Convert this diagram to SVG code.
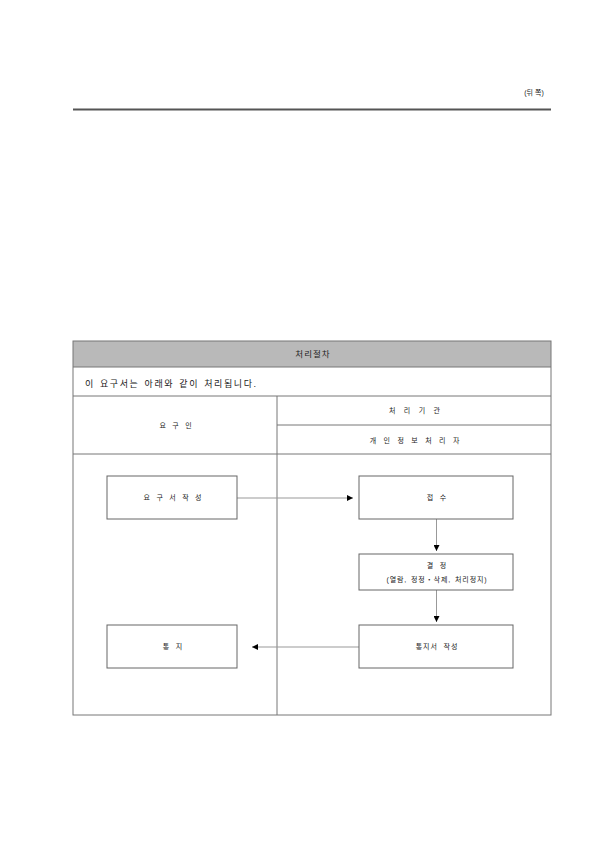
<svg xmlns="http://www.w3.org/2000/svg" width="595" height="841" viewBox="0 0 595 841">
<style>
text{font-family:"Liberation Sans","Noto Sans CJK KR",sans-serif;fill:#222;text-anchor:middle}
.s{font-size:7px;letter-spacing:1px;word-spacing:2.5px}
.m{font-size:8.5px;letter-spacing:1px}
.t{stroke:#777;stroke-width:1;fill:none}
.box{fill:#fff;stroke:#666;stroke-width:1}
.c{stroke:#999;stroke-width:1;fill:none}
</style>
<defs>
<marker id="ah" viewBox="0 0 10 10" refX="10" refY="5" markerWidth="6" markerHeight="6" markerUnits="userSpaceOnUse" orient="auto">
<path d="M0,0 L10,5 L0,10 Z" fill="#000"/>
</marker>
</defs>
<text style="font-size:7px;font-family:'Liberation Sans','Noto Sans CJK KR',sans-serif" x="534" y="95">(뒤 쪽)</text>
<line x1="73" y1="109.5" x2="551" y2="109.5" stroke="#555" stroke-width="2"/>
<g id="table">
<rect x="73" y="341" width="478" height="26" fill="#b9b9b9"/>
<rect x="73" y="341" width="478" height="374" class="t" stroke-width="1.3"/>
<line class="t" x1="73" y1="367" x2="551" y2="367"/>
<line class="t" x1="73" y1="396" x2="551" y2="396"/>
<line class="t" x1="277" y1="425" x2="551" y2="425"/>
<line class="t" x1="73" y1="454" x2="551" y2="454"/>
<line class="t" x1="277" y1="396" x2="277" y2="715"/>
<text class="m" x="313" y="357">처리절차</text>
<text style="font-size:9px;text-anchor:start;letter-spacing:1.6px;word-spacing:1px" x="85" y="387">이 요구서는 아래와 같이 처리됩니다.</text>
<text class="s" x="176" y="428">요 구 인</text>
<text class="s" x="415" y="413" style="word-spacing:4.5px">처 리 기 관</text>
<text class="s" x="415" y="443" style="word-spacing:3.5px">개 인 정 보 처 리 자</text>
</g>
<g id="connectors">
<line class="c" x1="237" y1="498" x2="353" y2="498" marker-end="url(#ah)"/>
<line class="c" x1="436.5" y1="519" x2="436.5" y2="551" marker-end="url(#ah)"/>
<line class="c" x1="436.5" y1="590" x2="436.5" y2="622" marker-end="url(#ah)"/>
<line class="c" x1="359" y1="647" x2="252" y2="647" marker-end="url(#ah)"/>
</g>
<g id="n1"><rect class="box" x="107" y="476" width="130" height="43"/><text class="s" x="173" y="500">요 구 서 작 성</text></g>
<g id="n2"><rect class="box" x="359" y="476" width="154" height="43"/><text class="s" x="437" y="500">접 수</text></g>
<g id="n3"><rect class="box" x="359" y="554" width="154" height="36"/><text class="s" x="437" y="568">결 정</text><text class="s" x="437" y="582" style="word-spacing:1px;letter-spacing:0.9px">(열람, 정정・삭제, 처리정지)</text></g>
<g id="n4"><rect class="box" x="359" y="625" width="154" height="43"/><text class="s" x="437" y="649">통지서 작성</text></g>
<g id="n5"><rect class="box" x="107" y="625" width="130" height="43"/><text class="s" x="173" y="649">통 지</text></g>
</svg>
